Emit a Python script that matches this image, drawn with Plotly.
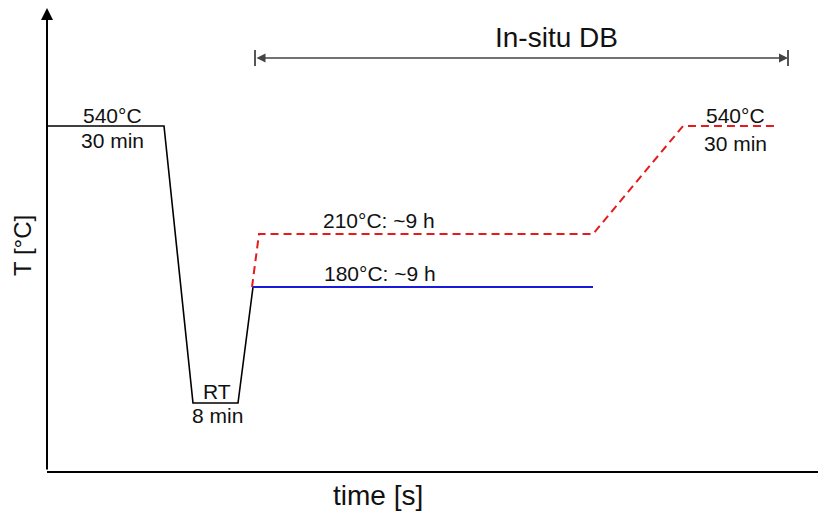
import plotly.graph_objects as go

# Schematic heat-treatment profile (arbitrary time / temperature units)
black_t = [0, 117, 146, 191, 206]
black_T = [345, 345, 68, 68, 184]

blue_t = [205, 546]
blue_T = [184, 184]

red_t = [205, 212, 546, 636, 731]
red_T = [184, 237, 237, 345, 345]

labels = [
    ("540°C", 65, 356),
    ("30 min", 65, 331),
    ("RT", 170, 80),
    ("8 min", 170, 56),
    ("210°C: ~9 h", 332, 251),
    ("180°C: ~9 h", 333, 198),
    ("540°C", 688, 356),
    ("30 min", 688, 328),
]

insitu_start, insitu_end, insitu_level = 208, 741, 413

FONT = "Liberation Sans, Arial, sans-serif"

fig = go.Figure()
fig.add_trace(go.Scatter(x=black_t, y=black_T, mode="lines",
                         line=dict(color="black", width=1.6), hoverinfo="skip"))
fig.add_trace(go.Scatter(x=blue_t, y=blue_T, mode="lines",
                         line=dict(color="#1a1adc", width=2), hoverinfo="skip"))
fig.add_trace(go.Scatter(x=red_t, y=red_T, mode="lines",
                         line=dict(color="#e41a1c", width=2, dash="8px,5px"), hoverinfo="skip"))

annotations = []
for txt, x, y in labels:
    annotations.append(dict(x=x, y=y, text=txt, showarrow=False, xref="x", yref="y",
                            xanchor="center", yanchor="middle",
                            font=dict(family=FONT, size=21, color="#111")))

# In-situ DB double arrow
annotations.append(dict(x=insitu_end, y=insitu_level, ax=insitu_start, ay=insitu_level,
                        xref="x", yref="y", axref="x", ayref="y", text="",
                        showarrow=True, arrowhead=2, arrowside="end+start",
                        arrowsize=1.2, arrowwidth=1.5, arrowcolor="#444"))
annotations.append(dict(x=509, y=434, text="In-situ DB",
                        showarrow=False, xref="x", yref="y",
                        xanchor="center", yanchor="middle",
                        font=dict(family=FONT, size=28, color="#111")))

# Y axis arrow
annotations.append(dict(x=0, y=463, ax=0, ay=0, xref="x", yref="y", axref="x", ayref="y",
                        text="", showarrow=True, arrowhead=2, arrowsize=1.2,
                        arrowwidth=2, arrowcolor="black"))

# Axis titles
annotations.append(dict(x=(22 - 47) / 779, y=(471 - 246) / 463, xref="paper", yref="paper",
                        xanchor="center", yanchor="middle",
                        text="T [°C]", textangle=-90, showarrow=False,
                        font=dict(family=FONT, size=24, color="#111")))
annotations.append(dict(x=(378 - 47) / 779, y=(471 - 495) / 463, xref="paper", yref="paper",
                        xanchor="center", yanchor="middle",
                        text="time [s]", showarrow=False,
                        font=dict(family=FONT, size=28, color="#111")))

shapes = []
for xe in (insitu_start, insitu_end):
    shapes.append(dict(type="line", x0=xe, x1=xe, y0=insitu_level - 8, y1=insitu_level + 8,
                       xref="x", yref="y", line=dict(color="#444", width=1.8)))

fig.update_layout(
    width=826, height=513,
    margin=dict(l=39, r=8, t=0, b=50),
    paper_bgcolor="white", plot_bgcolor="white",
    showlegend=False,
    annotations=annotations, shapes=shapes,
    xaxis=dict(range=[0, 779], showgrid=False, zeroline=False, showticklabels=False,
               ticks="", showline=True, linecolor="black", linewidth=2, fixedrange=True),
    yaxis=dict(range=[0, 463], showgrid=False, zeroline=False, showticklabels=False,
               ticks="", showline=False, fixedrange=True),
)

fig.write_html("out.html", config={"displayModeBar": False})
